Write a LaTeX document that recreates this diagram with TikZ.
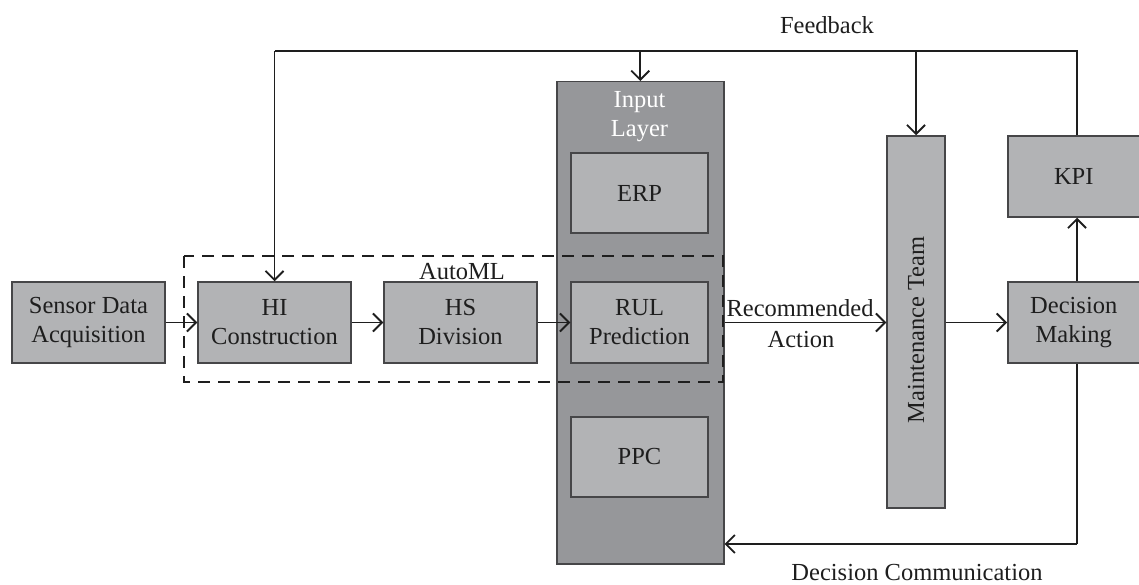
\documentclass[tikz,border=0pt]{standalone}
\usepackage{fontspec}
\setmainfont{Liberation Serif}
\usetikzlibrary{arrows.meta}
\definecolor{boxgray}{RGB}{178,179,181}
\definecolor{layergray}{RGB}{150,151,154}
\definecolor{edgegray}{RGB}{70,70,72}
\definecolor{inkgray}{RGB}{30,30,30}
\tikzset{
  blk/.style={draw=edgegray, line width=1.5pt, fill=boxgray, align=center,
    text=inkgray, inner sep=0pt, font=\fontsize{24.5}{29}\selectfont},
  lbl/.style={text=inkgray, align=center, inner sep=0pt, font=\fontsize{24.5}{29}\selectfont},
  conn/.style={draw=inkgray, line width=1.9pt},
  arr/.style={conn, -{Straight Barb[length=9pt,width=18pt,line width=1.9pt]}},
}
\begin{document}
\begin{tikzpicture}[x=1pt,y=-1pt]
\useasboundingbox (0,0) rectangle (1139,585);

% input layer column with its three data sources
\node[blk, fill=layergray, minimum width=167pt, minimum height=482pt, anchor=north west] (layer) at (556,81) {};
\node[lbl, text=white] (layertitle) at (639.5,117) {Input\\Layer};
\node[blk, minimum width=137pt, minimum height=80pt] (erp) at (639.5,193) {ERP};
\node[blk, minimum width=137pt, minimum height=81pt] (rul) at (639.5,322.5) {RUL\\Prediction};
\node[blk, minimum width=137pt, minimum height=80pt] (ppc) at (639.5,457) {PPC};

% AutoML pipeline
\node[blk, minimum width=153pt, minimum height=81pt] (sensor) at (88.5,322.5) {Sensor Data\\Acquisition};
\node[blk, minimum width=153pt, minimum height=81pt] (hi) at (274.5,322.5) {HI\\Construction};
\node[blk, minimum width=153pt, minimum height=81pt] (hs) at (460.5,322.5) {HS\\Division};
\draw[draw=inkgray, line width=1.9pt, dash pattern=on 12pt off 8pt] (184,256) rectangle (723,382);
\node[lbl] (automl) at (462,272) {AutoML};

% maintenance side
\node[blk, minimum width=58pt, minimum height=372pt] (maint) at (916,322) {};
\node[lbl, rotate=90] (mainttext) at (916,330) {Maintenance Team};
\node[blk, minimum width=132pt, minimum height=81pt, anchor=west] (dec) at (1007,322.5) {Decision\\Making};
\node[blk, minimum width=132pt, minimum height=81pt, anchor=west] (kpi) at (1007,176.5) {KPI};

% flow
\draw[arr] (sensor) -- (hi);
\draw[arr] (hi) -- (hs);
\draw[arr] (hs) -- (rul);
\draw[arr] (layer.east |- rul) -- (maint.west |- rul);
\node[lbl, anchor=base] (rec) at (800,316) {Recommended};
\node[lbl, anchor=base] (act) at (801,347) {Action};
\draw[arr] (maint.east |- dec) -- (dec);
\draw[arr] (dec.north -| 1077,0) -- (kpi.south -| 1077,0);

% feedback loop
\coordinate (fbr) at (1077,51);
\coordinate (fbl) at (274.5,51);
\draw[conn] (kpi.north -| fbr) -- (fbr) -- (fbl);
\draw[arr] (fbl) -- (hi.north);
\draw[arr] (layer.north |- fbr) -- (layer.north);
\draw[arr] (maint.north |- fbr) -- (maint.north);
\node[lbl] (fb) at (827,25) {Feedback};

% decision communication
\coordinate (dcr) at (1077,544);
\draw[conn] (dec.south -| dcr) -- (dcr);
\draw[arr] (dcr) -- (layer.east |- dcr);
\node[lbl] (dc) at (917,573) {Decision Communication};
\end{tikzpicture}
\end{document}
